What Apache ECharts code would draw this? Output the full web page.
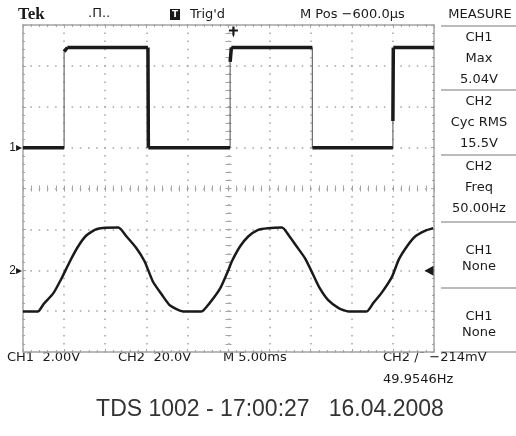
<!DOCTYPE html>
<html>
<head>
<meta charset="utf-8">
<title>TDS 1002</title>
<script src="https://cdn.jsdelivr.net/npm/echarts@6/dist/echarts.min.js"></script>
<style>
html, body { margin: 0; padding: 0; background: #fff; }
#scope { width: 516px; height: 436px; }
</style>
</head>
<body>
<div id="scope"></div>
<script>
// time in ms from screen centre (M 5.00ms/div), volts per channel
var ch1Times = [-25.0, -20.0, -20.0, -19.6, -9.8, -9.75, 0.2, 0.2, 0.35, 10.2, 10.2, 20.0, 20.0, 20.05, 25.0];
var ch1Volts = [  0.0,   0.0,   4.7,   4.9,  4.9,   0.0, 0.0, 4.2,  4.9,  4.9,  0.0,  0.0,  1.3,   4.9,  4.9];

var ch2Times = [-25.0, -23.2, -22.5, -21.3, -20.3, -19.3, -18.3, -17.3, -16.0, -13.4, -12.4, -11.2, -10.2, -9.2, -8.1, -7.1, -5.5, -3.3, -2.3, -1.0,
                0.0, 0.4, 1.4, 2.4, 3.6, 4.8, 6.5, 7.3, 8.3, 9.3, 10.3, 11.1, 12.1, 13.4, 14.6, 16.8, 17.6, 18.6, 19.9, 20.7, 21.7, 22.7, 23.9, 24.9];
var ch2Volts = [-20.2, -20.2, -16.6, -11.2, -3.9, 4.3, 11.6, 17.0, 20.2, 20.9, 16.5, 10.8, 4.3, -5.5, -12.0, -17.3, -20.2, -20.2, -16.1, -8.8,
                0.2, 4.3, 11.6, 16.5, 19.8, 20.6, 20.9, 17.3, 11.6, 5.9, -2.2, -8.8, -14.5, -18.5, -20.2, -20.2, -16.1, -11.2, -3.1, 5.1, 11.6, 16.5, 19.3, 20.6];

var triggerTime = 0.6;
var triggerLevel = -0.214;

var headerTexts = ["Tek", ".Π..", "Trig'd", "M Pos −600.0µs", "MEASURE"];
var measureRows = [["CH1", "Max", "5.04V"], ["CH2", "Cyc RMS", "15.5V"], ["CH2", "Freq", "50.00Hz"], ["CH1", "None"], ["CH1", "None"]];
var statusTexts = ["CH1  2.00V", "CH2  20.0V", "M 5.00ms", "CH2 /¯ −214mV", "49.9546Hz"];
var footerText = "TDS 1002 - 17:00:27   16.04.2008";

var gridGrey = '#a4a4a4';
var ink = '#1a1a1a';
var scopeFont = '"DejaVu Sans", sans-serif';

var myChart = echarts.init(document.getElementById('scope'));

// split CH1 into flat levels (thick) and fast edges (thin)
var ch1Levels = [];
var ch1Edges = [];
for (var i = 1; i < ch1Times.length; i++) {
    var target = ch1Times[i] === ch1Times[i - 1] ? ch1Edges : ch1Levels;
    target.push([ch1Times[i - 1], ch1Volts[i - 1]], [ch1Times[i], ch1Volts[i]], [ch1Times[i], '-']);
}
var ch2Data = [];
for (var i = 0; i < ch2Times.length; i++) {
    ch2Data.push([ch2Times[i], ch2Volts[i]]);
}

function frameX(pos, split) {
    return {
        type: 'value', min: -25, max: 25, interval: 5, position: pos,
        axisLine: { onZero: false, lineStyle: { color: gridGrey, width: 1.5 } },
        axisTick: { inside: true, length: 3, lineStyle: { color: gridGrey } },
        minorTick: { show: true, splitNumber: 5, length: 2, lineStyle: { color: gridGrey } },
        axisLabel: { show: false },
        splitLine: { show: split, lineStyle: { color: gridGrey, width: 1.5, type: [1.5, 6.675], dashOffset: 0.75 } },
        minorSplitLine: { show: false }
    };
}
function centreX(pos) {
    return {
        type: 'value', min: -25, max: 25, interval: 5, position: pos,
        axisLine: { show: true, onZero: true, onZeroAxisIndex: 0, lineStyle: { opacity: 0 } },
        axisTick: { inside: true, length: 3, lineStyle: { color: gridGrey } },
        minorTick: { show: true, splitNumber: 5, length: 3, lineStyle: { color: gridGrey } },
        axisLabel: { show: false },
        splitLine: { show: false }
    };
}
function frameY(pos, split) {
    return {
        type: 'value', min: -4, max: 4, interval: 1, position: pos,
        axisLine: { onZero: false, lineStyle: { color: gridGrey, width: 1.5 } },
        axisTick: { inside: true, length: 3, lineStyle: { color: gridGrey } },
        minorTick: { show: true, splitNumber: 5, length: 2, lineStyle: { color: gridGrey } },
        axisLabel: { show: false },
        splitLine: { show: split, lineStyle: { color: gridGrey, width: 1.5, type: [1.5, 6.72], dashOffset: 0.75 } }
    };
}
function centreY(pos) {
    return {
        type: 'value', min: -4, max: 4, interval: 1, position: pos,
        axisLine: { show: true, onZero: true, onZeroAxisIndex: 0, lineStyle: { opacity: 0 } },
        axisTick: { inside: true, length: 3, lineStyle: { color: gridGrey } },
        minorTick: { show: true, splitNumber: 5, length: 3, lineStyle: { color: gridGrey } },
        axisLabel: { show: false },
        splitLine: { show: false }
    };
}
function channelY(min, max, step, mark) {
    return {
        type: 'value', min: min, max: max, interval: step, position: 'left',
        axisLine: { show: false, onZero: false },
        axisTick: { show: false },
        splitLine: { show: false },
        axisLabel: {
            margin: 1,
            formatter: function (v) { return v === 0 ? '{n|' + mark + '}{a|▸}' : ''; },
            rich: {
                n: { font: 'bold 12px ' + scopeFont, color: ink },
                a: { font: '12px ' + scopeFont, color: ink }
            }
        }
    };
}

var graphics = [];
function addText(str, x, y, font, align, fill) {
    graphics.push({
        type: 'text', x: x, y: y, silent: true,
        style: { text: str, font: font, fill: fill || ink, align: align || 'left', verticalAlign: 'middle' }
    });
}
function addLine(x1, y1, x2, y2) {
    graphics.push({
        type: 'line', silent: true,
        shape: { x1: x1, y1: y1, x2: x2, y2: y2 },
        style: { stroke: gridGrey, lineWidth: 1.5 }
    });
}

// header
addText(headerTexts[0], 18, 15, 'bold 17px "Liberation Serif", serif');
addText(headerTexts[1], 88, 14, '13px ' + scopeFont);
graphics.push({ type: 'rect', shape: { x: 170, y: 9, width: 10, height: 11 }, style: { fill: ink }, silent: true });
addText('T', 175, 15, 'bold 9px ' + scopeFont, 'center', '#fff');
addText(headerTexts[2], 190, 15, '13px ' + scopeFont);
addText(headerTexts[3], 300, 15, '13px ' + scopeFont);
addText(headerTexts[4], 480, 15, '13px ' + scopeFont, 'center');

// measure panel
var boxTops = [26, 90, 155, 222, 288, 352];
for (var b = 0; b < boxTops.length; b++) {
    addLine(441, boxTops[b], 516, boxTops[b]);
}
for (var b = 0; b < measureRows.length; b++) {
    var rows = measureRows[b];
    for (var r = 0; r < rows.length; r++) {
        var yy = rows.length === 3 ? boxTops[b] + 12 + 21 * r : boxTops[b] + 29 + 16 * r;
        addText(rows[r], 479, yy, '13px ' + scopeFont, 'center');
    }
}

// status line
addText(statusTexts[0], 7, 358, '13px ' + scopeFont);
addText(statusTexts[1], 118, 358, '13px ' + scopeFont);
addText(statusTexts[2], 223, 358, '13px ' + scopeFont);
addText(statusTexts[3], 383, 358, '13px ' + scopeFont);
addText(statusTexts[4], 383, 380, '13px ' + scopeFont);

addText(footerText, 270, 410, '23px "Liberation Sans", Arial, sans-serif', 'center', '#333');

option = {
    backgroundColor: '#fff',
    animation: false,
    grid: { left: 23, top: 25, right: 82, bottom: 84, containLabel: false, outerBoundsMode: 'none' },
    xAxis: [frameX('bottom', true), frameX('top', false), centreX('bottom'), centreX('top')],
    yAxis: [
        frameY('left', true), frameY('right', false), centreY('left'), centreY('right'),
        channelY(-10, 6, 2, '1'),
        channelY(-40, 120, 20, '2')
    ],
    graphic: graphics,
    series: [
        {
            name: 'CH1', type: 'line', yAxisIndex: 4, data: ch1Levels, symbol: 'none',
            connectNulls: false, lineStyle: { color: ink, width: 3.5 }, z: 5
        },
        {
            name: 'CH1 edges', type: 'line', yAxisIndex: 4, data: ch1Edges, symbol: 'none',
            connectNulls: false, lineStyle: { color: '#6a6a6a', width: 1.2 }, z: 4
        },
        {
            name: 'CH2', type: 'line', yAxisIndex: 5, data: ch2Data, symbol: 'none', smooth: 0.2,
            lineStyle: { color: ink, width: 2.5 }, z: 5,
            markPoint: {
                silent: true,
                label: { show: false },
                data: [
                    { coord: [25, triggerLevel], symbol: 'triangle', symbolRotate: 90, symbolSize: [10, 9], symbolOffset: [-5, 0], itemStyle: { color: ink } },
                    { coord: [triggerTime, 120], symbol: 'path://M4,0 L6,0 L6,3 L9,3 L9,5 L6,5 L6,8 L5,11 L4,8 L4,5 L1,5 L1,3 L4,3 Z', symbolSize: [9, 11], symbolOffset: [0, 7], itemStyle: { color: ink } }
                ]
            }
        }
    ]
};

myChart.setOption(option);
window.addEventListener('resize', function () {
    myChart.resize();
});
</script>
</body>
</html>
